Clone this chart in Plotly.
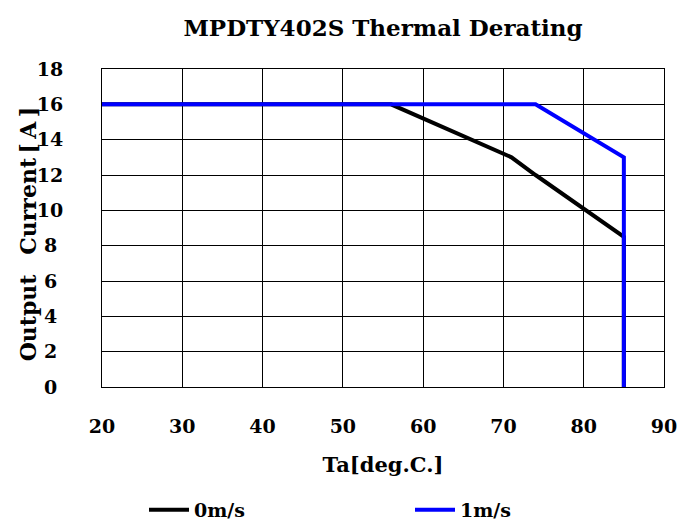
import plotly.graph_objects as go

x0 = [20, 56, 71, 74, 85, 85]
y0 = [16, 16, 13, 12, 8.5, 0]
x1 = [20, 74, 85, 85]
y1 = [16, 16, 13, 0]
xticks = [20, 30, 40, 50, 60, 70, 80, 90]
yticks = [0, 2, 4, 6, 8, 10, 12, 14, 16, 18]

FONT = "DejaVu Serif"
W, H = 681, 523
PL, PR, PT, PB = 102, 664, 69, 387  # plot area edges in pixels


def ylab(v):
    s = f"<b>{v}</b>"
    return s + "\u2008" if v < 10 else s


fig = go.Figure()
fig.add_trace(go.Scatter(x=x0, y=y0, mode="lines", name="<b>0m/s</b>",
                         line=dict(color="black", width=4)))
fig.add_trace(go.Scatter(x=x1, y=y1, mode="lines", name="<b>1m/s</b>",
                         line=dict(color="#0000ff", width=4)))

fig.update_layout(
    width=W, height=H,
    margin=dict(l=PL, r=W - PR, t=PT, b=H - PB, autoexpand=False),
    paper_bgcolor="white", plot_bgcolor="white",
    font=dict(family=FONT, color="black", size=19),
    title=dict(text="<b>MPDTY402S Thermal Derating</b>", x=383 / W, xanchor="center",
               y=1 - 28 / H, yanchor="middle", yref="container",
               font=dict(size=23, family=FONT)),
    xaxis=dict(range=[20, 90], tickvals=xticks, ticktext=[f"<b>{v}</b>" for v in xticks],
               showgrid=True, gridcolor="black", gridwidth=1,
               showline=True, linecolor="black", linewidth=1, mirror=True,
               zeroline=False, ticks="", ticklen=0, automargin=False,
               ticklabelstandoff=22,
               title=dict(text="<b>Ta[deg.C.]</b>", standoff=21, font=dict(size=21))),
    yaxis=dict(range=[0, 18], tickvals=yticks, ticktext=[ylab(v) for v in yticks],
               showgrid=True, gridcolor="black", gridwidth=1,
               showline=True, linecolor="black", linewidth=1, mirror=True,
               zeroline=False, ticks="", ticklen=0, automargin=False,
               ticklabelstandoff=34),
    legend=dict(orientation="h", x=(151 - 7) / W, xanchor="left", xref="container",
                y=(H - 510) / H, yanchor="middle", yref="container",
                entrywidth=211, entrywidthmode="pixels",
                font=dict(size=19, family=FONT), itemwidth=40),
    showlegend=True,
    annotations=[dict(
        text="<b>Output\u00a0\u00a0\u2009Current\u2009[\u2009A\u2009]</b>",
        textangle=-90, showarrow=False,
        xref="paper", x=(28 - PL) / (PR - PL), xanchor="center",
        yref="paper", y=0.48, yanchor="middle",
        font=dict(size=22, family=FONT))],
)
fig.update_traces(cliponaxis=False)

fig.write_html("out.html", config={"displayModeBar": False},
               post_script="document.body.style.margin='0';")
